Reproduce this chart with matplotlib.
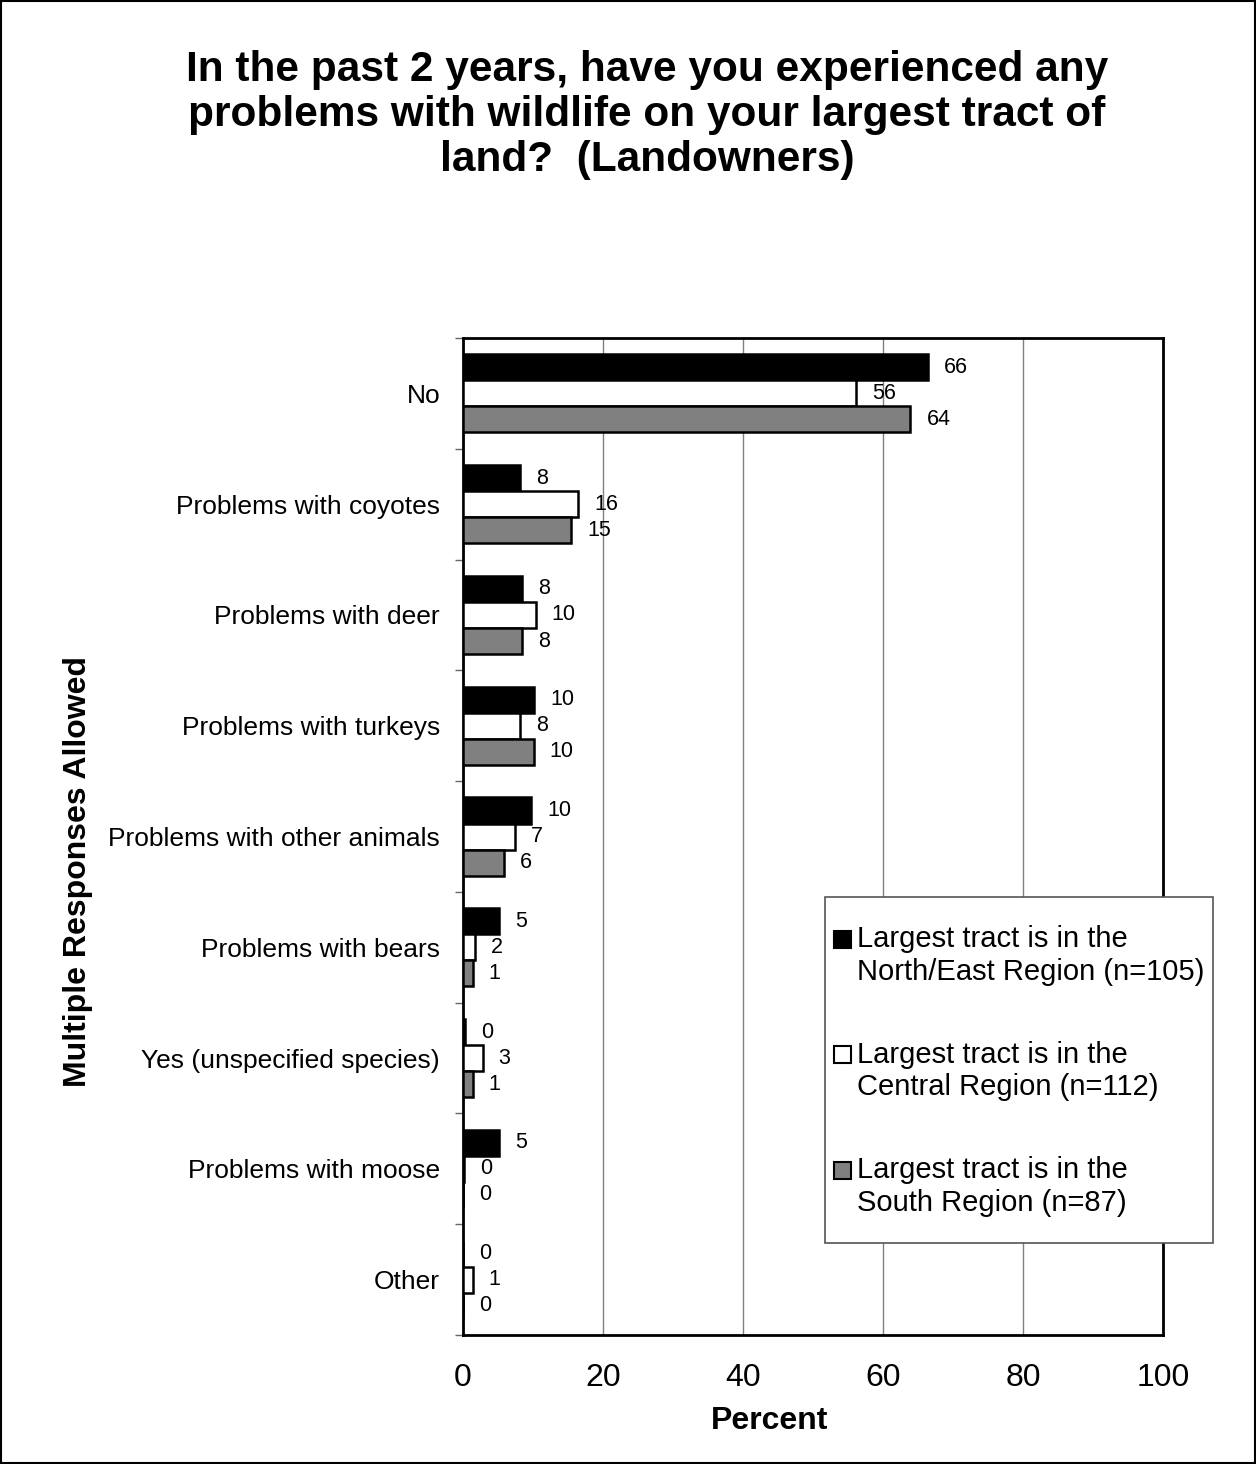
import numpy as np
import matplotlib.pyplot as plt
from matplotlib.patches import Rectangle

plt.rcParams['font.family'] = ['Liberation Sans', 'DejaVu Sans']

categories = ["No", "Problems with coyotes", "Problems with deer",
              "Problems with turkeys", "Problems with other animals",
              "Problems with bears", "Yes (unspecified species)",
              "Problems with moose", "Other"]
north_east = [66.4, 8.1, 8.4, 10.2, 9.7, 5.1, 0.3, 5.1, 0.0]
central = [56.2, 16.4, 10.4, 8.2, 7.4, 1.7, 2.8, 0.1, 1.4]
south = [63.9, 15.4, 8.4, 10.1, 5.9, 1.4, 1.4, 0.0, 0.0]
series_names = ["Largest tract is in the\nNorth/East Region (n=105)",
                "Largest tract is in the\nCentral Region (n=112)",
                "Largest tract is in the\nSouth Region (n=87)"]
colors = ["black", "white", "#808080"]

W, H = 1256, 1464
fig = plt.figure(figsize=(W / 100, H / 100), dpi=100)
ax = fig.add_axes([0.3686, 0.0881, 0.5574, 0.6810])

y = np.arange(len(categories))
h = 0.235
for i, (vals, col) in enumerate(zip([north_east, central, south], colors)):
    pos = y + (i - 1) * h
    ax.barh(pos, vals, height=h, color=col, edgecolor="black", linewidth=1.8, zorder=3)
    for p, v in zip(pos, vals):
        ax.text(v + 2.3, p, "%d" % round(v), va="center", ha="left", fontsize=15.5)

ax.set_xlim(0, 100)
ax.set_ylim(len(categories) - 0.5, -0.5)
ax.set_xticks(np.arange(0, 101, 20))
ax.tick_params(axis="x", labelsize=23, length=0, pad=20)
ax.set_yticks(np.arange(len(categories) + 1) - 0.5)
ax.set_yticklabels([])
ax.tick_params(axis="y", which="major", length=5.5, width=1, color="#666666",
               direction="out")
ax.set_yticks(y, minor=True)
ax.set_yticklabels(categories, minor=True, fontsize=19)
ax.tick_params(axis="y", which="minor", length=0, pad=16.5)
ax.grid(axis="x", color="#808080", linewidth=1, zorder=0)
for s in ax.spines.values():
    s.set_linewidth(2)

fig.text(770 / W, 1 - 1421 / H, "Percent", fontsize=23, fontweight="bold",
         ha="center", va="center")
fig.text(0.062, 1 - 872 / H, "Multiple Responses Allowed", rotation=90, fontsize=23,
         fontweight="bold", ha="center", va="center")

fig.text(0.515, 0.966, "In the past 2 years, have you experienced any\n"
         "problems with wildlife on your largest tract of\nland?  (Landowners)",
         ha="center", va="top", fontsize=30.5, fontweight="bold", linespacing=1.17)

# legend: box, square keys aligned with the first line of each entry
fig.patches.append(Rectangle((825 / W, 1 - 1243 / H), 388 / W, 346 / H,
                             transform=fig.transFigure, facecolor="white",
                             edgecolor="#555555", linewidth=1.2, zorder=5))
for k, (name, col) in enumerate(zip(series_names, colors)):
    yc = 955.5 + k * 115.5
    fig.patches.append(Rectangle((834 / W, 1 - (yc - 8) / H), 17 / W, 17 / H,
                                 transform=fig.transFigure, facecolor=col,
                                 edgecolor="black", linewidth=1.5, zorder=6))
    fig.text(857 / W, 1 - yc / H, name, fontsize=21, ha="left", va="center",
             linespacing=1.2, zorder=7)

fig.patches.append(Rectangle((0.001, 0.001), 0.998, 0.998, transform=fig.transFigure,
                             fill=False, edgecolor="black", linewidth=1.5))

plt.savefig("out.png", dpi=100)
